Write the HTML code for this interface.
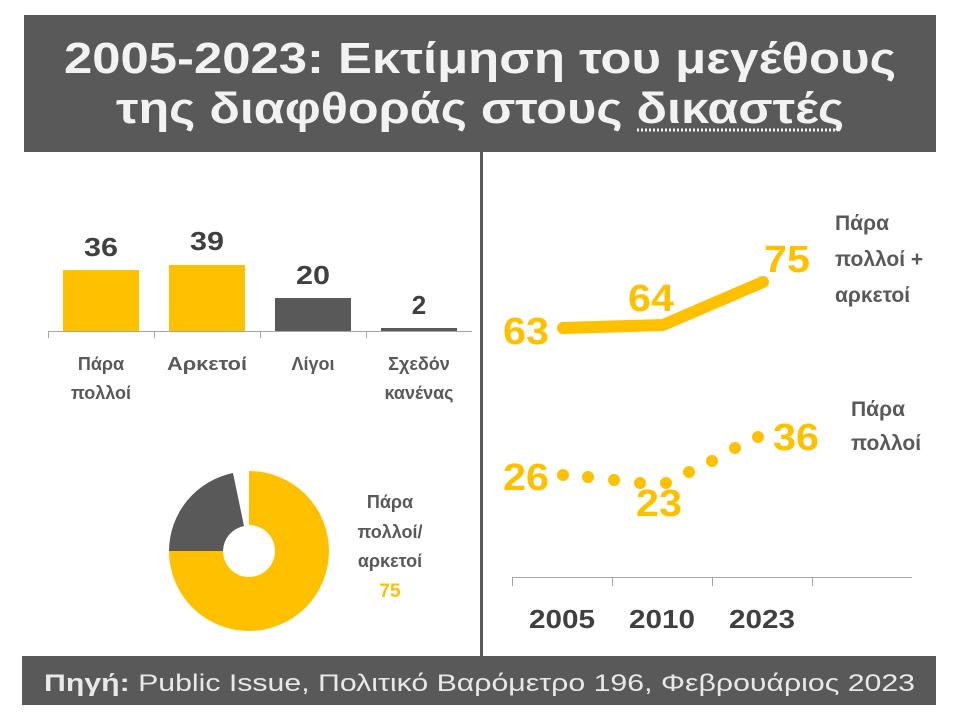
<!DOCTYPE html>
<html><head><meta charset="utf-8"><style>
html,body{margin:0;padding:0;background:#fff;width:960px;height:720px;overflow:hidden}
svg{display:block}
text{font-family:"Liberation Sans","DejaVu Sans",sans-serif}
</style></head><body>
<svg width="960" height="720" viewBox="0 0 960 720" xmlns="http://www.w3.org/2000/svg">
<rect width="960" height="720" fill="#fff"/>
<!-- header -->
<rect x="24" y="15" width="912" height="137" fill="#595959"/>
<text x="480" y="73" text-anchor="middle" font-size="44" font-weight="bold" fill="#f2f2f2" textLength="832" lengthAdjust="spacingAndGlyphs">2005-2023: Εκτίμηση του μεγέθους</text>
<text x="480" y="123" text-anchor="middle" font-size="44" font-weight="bold" fill="#f2f2f2" textLength="728" lengthAdjust="spacingAndGlyphs">της διαφθοράς στους δικαστές</text>
<line x1="637" y1="130" x2="838" y2="130" stroke="#f2f2f2" stroke-width="3" stroke-dasharray="2,2"/>
<!-- separator -->
<rect x="480" y="152" width="3" height="504" fill="#595959"/>
<!-- bars -->
<rect x="63" y="270" width="76" height="61" fill="#FFC000"/>
<rect x="169" y="265" width="76" height="66" fill="#FFC000"/>
<rect x="275" y="298" width="76" height="33" fill="#595959"/>
<rect x="381" y="328" width="76" height="3" fill="#595959"/>
<line x1="48" y1="331.5" x2="472" y2="331.5" stroke="#a6a6a6" stroke-width="1"/>
<g stroke="#a6a6a6"><line x1="48.5" y1="331" x2="48.5" y2="338"/><line x1="154.5" y1="331" x2="154.5" y2="338"/><line x1="260.5" y1="331" x2="260.5" y2="338"/><line x1="366.5" y1="331" x2="366.5" y2="338"/></g>
<g font-size="26" font-weight="bold" fill="#404040" text-anchor="middle">
<text x="101" y="256" textLength="34" lengthAdjust="spacingAndGlyphs">36</text>
<text x="207" y="250" textLength="34" lengthAdjust="spacingAndGlyphs">39</text>
<text x="313" y="284" textLength="34" lengthAdjust="spacingAndGlyphs">20</text>
<text x="419" y="314">2</text>
</g>
<g font-size="18" font-weight="bold" fill="#595959" text-anchor="middle">
<text x="101" y="370">Πάρα</text><text x="101" y="399">πολλοί</text>
<text x="207" y="370" textLength="80" lengthAdjust="spacingAndGlyphs">Αρκετοί</text>
<text x="313" y="370">Λίγοι</text>
<text x="419" y="370">Σχεδόν</text><text x="419" y="399">κανένας</text>
</g>
<!-- donut -->
<path d="M249,471 A80,80 0 1 1 169,551 L223,551 A26,26 0 1 0 249,525 Z" fill="#FFC000"/>
<path d="M169,551 A80,80 0 0 1 233,473 L244,526 A26,26 0 0 0 223,551 Z" fill="#595959"/>
<g font-size="18" font-weight="bold" fill="#595959" text-anchor="middle">
<text x="390" y="508">Πάρα</text><text x="390" y="538">πολλοί/</text><text x="390" y="567">αρκετοί</text>
</g>
<text x="390" y="597" font-size="19" font-weight="bold" fill="#FFC000" text-anchor="middle">75</text>
<!-- line chart -->
<polyline points="563,328 663,325 763,282" fill="none" stroke="#FFC000" stroke-width="12" stroke-linecap="round" stroke-linejoin="round"/>
<g fill="#FFC000">
<circle cx="563" cy="475" r="6"/><circle cx="588" cy="477" r="6"/><circle cx="614" cy="480" r="6"/><circle cx="640" cy="483" r="6"/><circle cx="666" cy="483" r="6"/><circle cx="689" cy="472" r="6"/><circle cx="712" cy="461" r="6"/><circle cx="735" cy="448" r="6"/><circle cx="758" cy="437" r="6"/>
</g>
<g font-size="38" font-weight="bold" fill="#FFC000">
<text x="503" y="344" textLength="46" lengthAdjust="spacingAndGlyphs">63</text>
<text x="628" y="311" textLength="46" lengthAdjust="spacingAndGlyphs">64</text>
<text x="764" y="272" textLength="46" lengthAdjust="spacingAndGlyphs">75</text>
<text x="503" y="490" textLength="46" lengthAdjust="spacingAndGlyphs">26</text>
<text x="636" y="516" textLength="46" lengthAdjust="spacingAndGlyphs">23</text>
<text x="773" y="450" textLength="46" lengthAdjust="spacingAndGlyphs">36</text>
</g>
<g font-size="21" font-weight="bold" fill="#595959">
<text x="835" y="230">Πάρα</text><text x="835" y="266">πολλοί +</text><text x="835" y="302">αρκετοί</text>
<text x="851" y="416">Πάρα</text><text x="851" y="450">πολλοί</text>
</g>
<line x1="512" y1="577.5" x2="912" y2="577.5" stroke="#a6a6a6"/>
<g stroke="#a6a6a6"><line x1="512.5" y1="577" x2="512.5" y2="586"/><line x1="612.5" y1="577" x2="612.5" y2="586"/><line x1="712.5" y1="577" x2="712.5" y2="586"/><line x1="812.5" y1="577" x2="812.5" y2="586"/></g>
<g font-size="26" font-weight="bold" fill="#404040" text-anchor="middle">
<text x="562" y="628" textLength="66" lengthAdjust="spacingAndGlyphs">2005</text>
<text x="662" y="628" textLength="66" lengthAdjust="spacingAndGlyphs">2010</text>
<text x="762" y="628" textLength="66" lengthAdjust="spacingAndGlyphs">2023</text>
</g>
<!-- footer -->
<rect x="22" y="656" width="914" height="49" fill="#595959"/>
<text x="44" y="691" font-size="24" fill="#e8e8e8" textLength="871" lengthAdjust="spacingAndGlyphs"><tspan font-weight="bold">Πηγή:</tspan> Public Issue, Πολιτικό Βαρόμετρο 196, Φεβρουάριος 2023</text>
</svg>
</body></html>
